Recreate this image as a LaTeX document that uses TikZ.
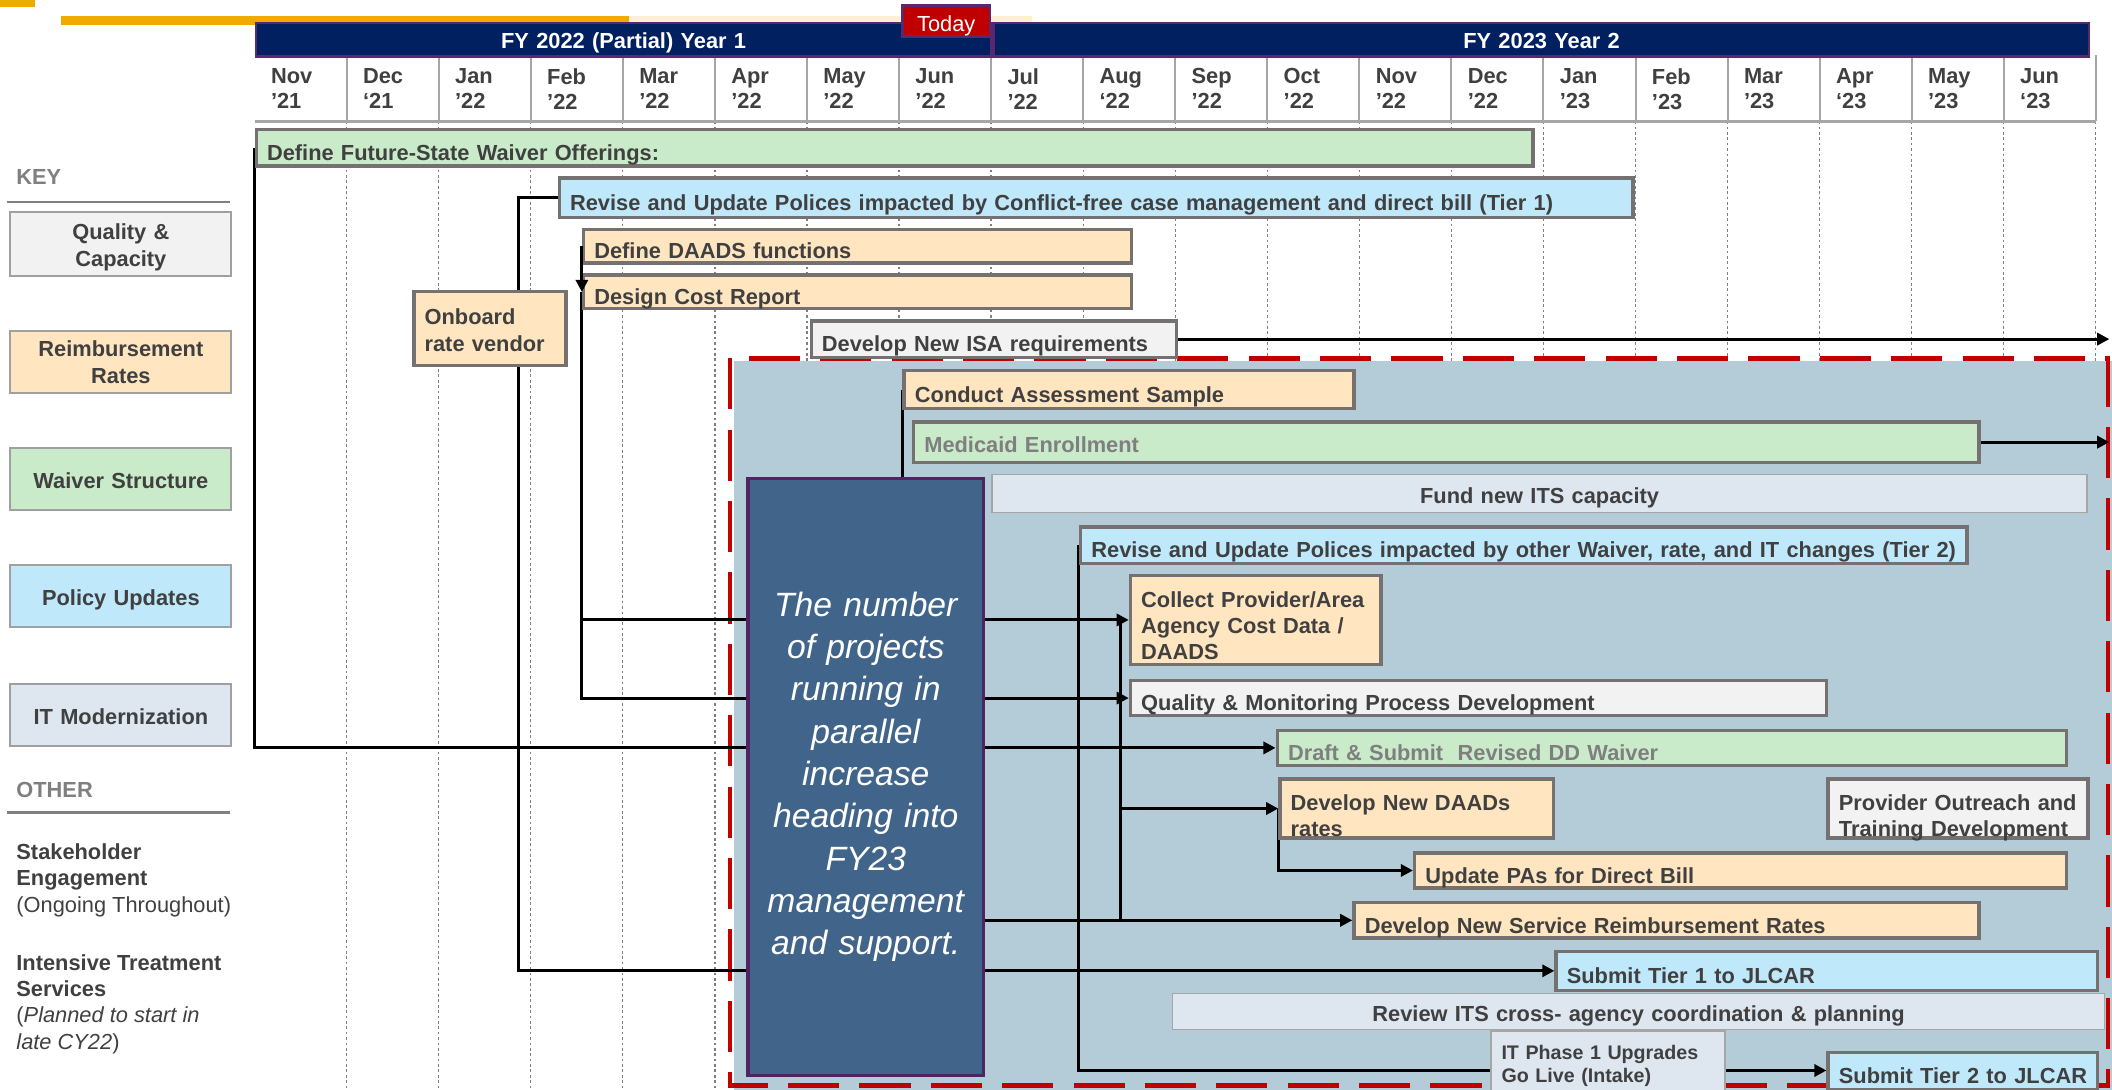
\documentclass[tikz,border=0pt]{standalone}
\usepackage{fontspec}
\setmainfont{Liberation Sans}
\usetikzlibrary{arrows.meta}

\pgfdeclarelayer{back}
\pgfdeclarelayer{lines}
\pgfsetlayers{back,lines,main}

\begin{document}
\begin{tikzpicture}
		[x=1pt,y=-1pt,line cap=butt,>={Triangle[length=9pt,width=9pt]},
		%Styles
		taskat/.code n args={4}{\pgfmathsetmacro\taskw{#3-#1-16}\pgfmathsetmacro\taskh{#4-#2}%
			\pgfkeysalso{at={(#1,#2)},text width=\taskw pt,minimum height=\taskh pt}},
		drop/.code={\pgfmathsetmacro\txth{2*#1}\pgfkeysalso{text height=\txth pt,text depth=0pt}},
		lift/.code={\pgfmathsetmacro\txtd{2*#1}\pgfkeysalso{text height=0pt,text depth=\txtd pt}},
		task/.style={draw=edgegray,line width=2.5pt,anchor=north west,inner xsep=8pt,inner ysep=0pt,
			align=left,text=txtgray,font=\fontsize{16.2}{19.5}\selectfont\bfseries},
		it task/.style={task,fill=itblue,draw=itedge,line width=1pt,align=center},
		key box/.style={task,draw=keyedge,line width=1.5pt,align=center,font=\fontsize{16.2}{20}\selectfont\bfseries},
		fybar/.style={task,fill=fynavy,draw=fyedge,line width=2pt,text=white,align=center},
		callout/.style={task,fill=calloutfill,draw=calloutedge,line width=2.5pt,text=white,align=center,
			font=\fontsize{25}{31.4}\selectfont\itshape},
		month/.style={anchor=north west,inner sep=0pt,align=left,text=txtgray,
			font=\fontsize{16.2}{18.5}\selectfont\bfseries},
		keyhead/.style={anchor=base west,inner sep=0pt,text=fadetxt,font=\fontsize{16.2}{19.5}\selectfont\bfseries},
		note/.style={anchor=north west,inner sep=0pt,align=left,text=txtgray,font=\fontsize{16.2}{19.5}\selectfont},
		conn/.style={draw=black,line width=2.2pt},
		gridline/.style={draw=gridgray,line width=0.9pt,dash pattern=on 2pt off 2pt},
		sepline/.style={draw=sepgray,line width=1.5pt},
		keyrule/.style={draw=gridgray,line width=2pt},
		reddash/.style={draw=todayred,line width=3.5pt,dash pattern=on 38pt off 15pt}
		]
		
		%Colors
		\definecolor{wavgreen}{RGB}{201,235,201}
		\definecolor{polblue}{RGB}{192,232,251}
		\definecolor{rateorange}{RGB}{255,230,193}
		\definecolor{qualgray}{RGB}{242,242,242}
		\definecolor{itblue}{RGB}{222,230,240}
		\definecolor{edgegray}{RGB}{118,113,113}
		\definecolor{itedge}{RGB}{166,166,166}
		\definecolor{keyedge}{RGB}{160,160,160}
		\definecolor{txtgray}{RGB}{64,64,64}
		\definecolor{fadetxt}{RGB}{127,127,127}
		\definecolor{fynavy}{RGB}{0,32,96}
		\definecolor{fyedge}{RGB}{90,40,110}
		\definecolor{todayred}{RGB}{192,0,0}
		\definecolor{fygold}{RGB}{240,171,0}
		\definecolor{palegold}{RGB}{253,239,210}
		\definecolor{regionblue}{RGB}{180,204,216}
		\definecolor{calloutfill}{RGB}{65,101,138}
		\definecolor{calloutedge}{RGB}{80,35,100}
		\definecolor{gridgray}{RGB}{128,128,128}
		\definecolor{sepgray}{RGB}{166,166,166}
		
		\useasboundingbox (0,0) rectangle (1568,809);
		
		%Timeline head
		\fill[fygold] (0,0) rectangle (26,5.5);
		\draw[fygold,line width=6.5pt] (45,15) -- (467,15);
		\draw[palegold,line width=6.5pt] (467,15) -- (766,15);
		
		\node[fybar,taskat={189}{16}{735}{41},drop=6.5] (fy22) {FY 2022 (Partial) Year 1};
		\node[fybar,taskat={737}{16}{1550}{41},drop=6.5] (fy23) {FY 2023 Year 2};
		\node[fybar,fill=todayred,font=\fontsize{16.2}{19.5}\selectfont,taskat={669}{3}{734}{26},drop=7.7] (today) {Today};
		
		\foreach \mo/\yr [count=\i from 0] in {Nov/’21,Dec/‘21,Jan/’22,Feb/’22,Mar/’22,Apr/’22,May/’22,Jun/’22,
			Jul/’22,Aug/‘22,Sep/’22,Oct/’22,Nov/’22,Dec/’22,Jan/’23,Feb/’23,Mar/’23,Apr/‘23,May/’23,Jun/‘23}
			\node[month] (m\i) at ({189+68.35*\i+12},50.5) {\mo\\\yr};
		
		\begin{pgfonlayer}{back}
			\foreach \i in {1,...,20}{
				\draw[gridline] ({189+68.35*\i},90) -- ({189+68.35*\i},809);
				\draw[sepline] ({189+68.35*\i},41) -- ({189+68.35*\i},90);
			}
			\draw[sepline,line width=2pt] (189,90) -- (1556,90);
			\fill[regionblue] (545,268) rectangle (1568,812);
			\draw[reddash] (542,266) rectangle (1565,806);
		\end{pgfonlayer}
		
		%Key
		\node[keyhead] (key) at (12,137) {KEY};
		\draw[keyrule] (5,150) -- (171,150);
		\node[key box,fill=qualgray,taskat={7}{157}{171}{204},lift=3.5] (kqual) {Quality \&\\Capacity};
		\node[key box,fill=rateorange,taskat={7}{245}{171}{291},lift=4] (krate) {Reimbursement\\Rates};
		\node[key box,fill=wavgreen,taskat={7}{332}{171}{378},drop=7] (kwav) {Waiver Structure};
		\node[key box,fill=polblue,taskat={7}{419}{171}{465},drop=6.5] (kpol) {Policy Updates};
		\node[key box,fill=itblue,taskat={7}{507}{171}{553},drop=7] (kit) {IT Modernization};
		\node[keyhead] (other) at (12,592) {OTHER};
		\draw[keyrule] (5,603) -- (171,603);
		\node[note] (stake) at (12,626.3) {\textbf{Stakeholder}\\\textbf{Engagement}\\(Ongoing Throughout)};
		\node[note] (its) at (12,708.4) {\textbf{Intensive Treatment}\\\textbf{Services}\\(\textit{Planned to start in}\\\textit{late CY22})};
		
		%Tasks
		\node[task,fill=wavgreen,taskat={189}{95}{1137}{122},drop=9.5] (fsw) {Define Future-State Waiver Offerings:};
		\node[task,fill=polblue,taskat={414}{131}{1211}{160},drop=9.5] (tier1) {Revise and Update Polices impacted by Conflict-free case management and direct bill (Tier 1)};
		\node[task,fill=rateorange,taskat={432}{169}{839}{194},drop=9.5] (daads) {Define DAADS functions};
		\node[task,fill=rateorange,taskat={432}{203}{839}{228},drop=9.5] (dcr) {Design Cost Report};
		\node[task,fill=rateorange,taskat={306}{215}{419}{270},lift=2.5] (onb) {Onboard\\rate vendor};
		\node[task,fill=qualgray,taskat={601}{237}{872}{264},drop=9.5] (isa) {Develop New ISA requirements};
		\node[task,fill=rateorange,taskat={670}{274}{1004}{302},drop=9.5] (cas) {Conduct Assessment Sample};
		\node[task,fill=wavgreen,text=fadetxt,taskat={677}{312}{1468}{342},drop=8] (med) {Medicaid Enrollment};
		\node[it task,taskat={736}{352}{1549}{380},drop=7.5] (fits) {Fund new ITS capacity};
		\node[task,fill=polblue,taskat={801}{390}{1459}{417},drop=9.5] (tier2) {Revise and Update Polices impacted by other Waiver, rate, and IT changes (Tier 2)};
		\node[task,fill=rateorange,taskat={838}{426}{1024}{492},lift=9.5] (cpd) {Collect Provider/Area\\Agency Cost Data /\\DAADS};
		\node[task,fill=qualgray,taskat={838}{504}{1355}{530},drop=9.5] (qmp) {Quality \& Monitoring Process Development};
		\node[task,fill=wavgreen,text=fadetxt,taskat={947}{541}{1533}{567},drop=9.5] (dsw) {Draft \& Submit~ Revised DD Waiver};
		\node[task,fill=rateorange,taskat={949}{577}{1152}{621},drop=1.5] (dnr) {Develop New DAADs\\rates};
		\node[task,fill=qualgray,taskat={1356}{577}{1549}{621},drop=1.5] (pot) {Provider Outreach and\\Training Development};
		\node[task,fill=rateorange,taskat={1049}{632}{1533}{658},drop=9.5] (upa) {Update PAs for Direct Bill};
		\node[task,fill=rateorange,taskat={1004}{669}{1468}{695},drop=9.5] (dsr) {Develop New Service Reimbursement Rates};
		\node[task,fill=polblue,taskat={1154}{705}{1556}{734},drop=9.5] (st1) {Submit Tier 1 to JLCAR};
		\node[it task,taskat={870}{737}{1562}{764},drop=7.5] (rits) {Review ITS cross- agency coordination \& planning};
		\node[it task,align=left,line width=1.5pt,font=\fontsize{14.6}{17}\selectfont\bfseries,taskat={1106}{765}{1280}{823},lift=8.4] (itp) {IT Phase 1 Upgrades\\Go Live (Intake)};
		\node[task,fill=polblue,taskat={1356}{780}{1556}{808},drop=9.5] (st2) {\mbox{Submit Tier 2 to JLCAR}};
		
		\coordinate (edge) at (1566,0);
		\coordinate (bus) at (832,0);
		
		%Links
		\begin{pgfonlayer}{lines}
			\draw[conn,->] (fsw.west) -- (fsw.west |- dsw.west) -- (dsw.west);
			\draw[conn,->] (tier1.west) -- ++(-29,0) |- (st1.west);
			\draw[conn,->] (dcr.west) |- (cpd.west);
			\draw[conn,->] (dcr.west) |- (qmp.west);
			\draw[conn,->] (cas.west) |- (dsr.west);
			\draw[conn] (cpd.west -| bus) -- (dsr.west -| bus);
			\draw[conn,->] (dnr.west -| bus) -- (dnr.west);
			\draw[conn,->] (dnr.west) |- (upa.west);
			\draw[conn,->] (isa.east) -- (isa.east -| edge);
			\draw[conn,->] (med.east) -- (med.east -| edge);
			\draw[conn] (tier2.west) |- (itp.west);
			\draw[conn,->] (itp.east) -- (itp.east -| st2.west);
		\end{pgfonlayer}
		\draw[conn,->] (daads.west) -- (dcr.west);
		
		%Callout
		\node[callout,taskat={554}{354}{729}{797}] (call) {The number\\of projects\\running in\\parallel\\increase\\heading into\\FY23\\management\\and support.};
	\end{tikzpicture}
\end{document}
